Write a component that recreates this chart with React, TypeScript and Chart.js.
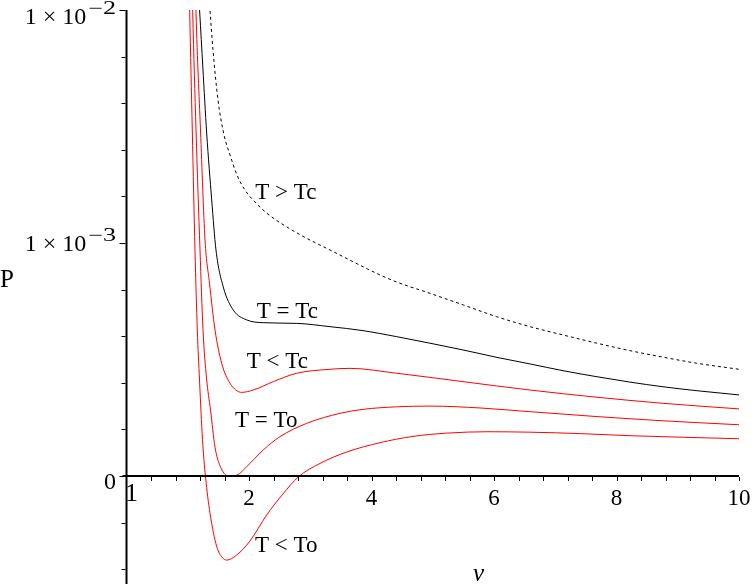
import React, { useEffect, useRef } from "react";
import { Chart, registerables } from "chart.js";

Chart.register(...registerables);

// Axis units: x = v ; y = plotted P position (0 -> "0", 1 -> "1 × 10^-3", 2 -> "1 × 10^-2")
const V_MIN = 0;
const V_MAX = 10;
const P_MIN = -0.4635;
const P_MAX = 2;

// T > Tc (dashed black)
const vHot = [1.32, 1.363, 1.412, 1.494, 1.592, 1.69, 1.804, 1.935, 2.098, 2.31, 2.784, 3.322, 4.33, 4.955, 5.5, 6.04, 6.588, 7.13, 7.68, 8.22, 8.76, 9.31, 10];
const pHot = [2.15, 2.0, 1.828, 1.614, 1.464, 1.378, 1.292, 1.227, 1.176, 1.124, 1.043, 0.97, 0.841, 0.784, 0.734, 0.684, 0.641, 0.605, 0.57, 0.538, 0.51, 0.484, 0.458];

// T = Tc (solid black)
const vCrit = [1.172, 1.195, 1.246, 1.309, 1.391, 1.461, 1.58, 1.744, 1.962, 2.233, 2.779, 3.322, 3.861, 4.411, 4.955, 5.494, 6.049, 6.588, 7.127, 7.682, 8.22, 8.759, 9.314, 10];
const pCrit = [2.09, 1.991, 1.755, 1.472, 1.185, 0.97, 0.811, 0.712, 0.67, 0.658, 0.655, 0.641, 0.624, 0.598, 0.57, 0.541, 0.509, 0.481, 0.452, 0.426, 0.403, 0.383, 0.366, 0.348];

// T < Tc (red)
const vSub = [1.127, 1.135, 1.208, 1.282, 1.355, 1.445, 1.554, 1.69, 1.881, 2.07, 2.397, 2.779, 3.322, 3.649, 4.411, 5.494, 6.588, 7.682, 8.759, 10];
const pSub = [2.086, 1.991, 1.485, 1.013, 0.828, 0.627, 0.484, 0.398, 0.359, 0.369, 0.405, 0.441, 0.458, 0.462, 0.441, 0.405, 0.369, 0.338, 0.312, 0.288];

// T = To (red)
const vEq = [1.073, 1.081, 1.135, 1.2, 1.249, 1.306, 1.372, 1.445, 1.543, 1.673, 1.804, 1.962, 2.233, 2.506, 2.942, 3.486, 3.861, 4.411, 4.955, 5.771, 6.588, 7.682, 8.759, 10];
const pEq = [2.086, 1.991, 1.485, 0.97, 0.627, 0.421, 0.283, 0.124, 0.034, 0.0, 0.004, 0.04, 0.112, 0.169, 0.226, 0.269, 0.286, 0.297, 0.3, 0.292, 0.276, 0.255, 0.237, 0.22];

// T < To (red)
const vLow = [1.025, 1.032, 1.074, 1.118, 1.156, 1.192, 1.241, 1.29, 1.363, 1.473, 1.559, 1.636, 1.799, 2.016, 2.289, 2.555, 2.805, 3.159, 3.595, 4.139, 4.678, 5.228, 5.9, 6.6, 7.4, 8.22, 10];
const pLow = [2.086, 1.991, 1.485, 0.97, 0.627, 0.412, 0.155, -0.003, -0.159, -0.303, -0.348, -0.361, -0.339, -0.279, -0.167, -0.077, -0.004, 0.054, 0.103, 0.143, 0.17, 0.184, 0.19, 0.188, 0.182, 0.173, 0.16];

// Tick labels
const xTickValues = [2, 4, 6, 8, 10];
const xTickLabels = ["2", "4", "6", "8", "10"];
const originLabel = "1";
const yTickValues = [0, 1, 2];
const yTickMantissas = ["0", "1 × 10", "1 × 10"];
const yTickExponents = ["", "−3", "−2"];
const yAxisTitle = "P";
const xAxisTitle = "v";

// Curve annotations (anchor at left/baseline, in axis units)
const curveLabels = ["T > Tc", "T = Tc", "T < Tc", "T = To", "T < To"];
const curveLabelV = [2.102, 2.126, 1.962, 1.771, 2.098];
const curveLabelP = [1.188, 0.678, 0.4635, 0.21, -0.325];

const toPoints = (vs: number[], ps: number[]) => vs.map((v, i) => ({ x: v, y: ps[i] }));

const SERIF = '"Liberation Serif", "Times New Roman", "DejaVu Serif", serif';

export default function App() {
  const ref = useRef<HTMLCanvasElement | null>(null);

  useEffect(() => {
    const canvas = ref.current;
    if (!canvas) return;
    let chart: Chart | null = null;
    let cancelled = false;

    const axesPlugin = {
      id: "mapleAxes",
      afterDatasetsDraw(ch: any) {
        const { ctx } = ch;
        const xs = ch.scales.x;
        const ys = ch.scales.y;
        const x0 = xs.getPixelForValue(0);
        const y0 = ys.getPixelForValue(0);
        ctx.save();
        ctx.strokeStyle = "#000";
        ctx.fillStyle = "#000";
        ctx.lineWidth = 2;
        ctx.beginPath();
        ctx.moveTo(x0, ys.getPixelForValue(P_MAX));
        ctx.lineTo(x0, ch.height);
        ctx.stroke();
        ctx.beginPath();
        ctx.moveTo(x0 - 4, y0);
        ctx.lineTo(xs.getPixelForValue(V_MAX), y0);
        ctx.stroke();
        ctx.lineWidth = 1;
        for (let k = -2; k <= 10; k++) {
          const py = Math.round(ys.getPixelForValue(k * 0.2)) + 0.5;
          const len = k % 5 === 0 ? 6 : 4;
          ctx.beginPath();
          ctx.moveTo(x0 - 1 - len, py);
          ctx.lineTo(x0 - 1, py);
          ctx.stroke();
        }
        for (let k = 1; k <= 25; k++) {
          const px = Math.round(xs.getPixelForValue(k * 0.4)) + 0.5;
          ctx.beginPath();
          ctx.moveTo(px, y0 + 1);
          ctx.lineTo(px, y0 + 5);
          ctx.stroke();
        }
        ctx.font = `23px ${SERIF}`;
        ctx.textAlign = "center";
        ctx.textBaseline = "alphabetic";
        xTickValues.forEach((v, i) => {
          ctx.fillText(xTickLabels[i], xs.getPixelForValue(v), y0 + 29);
        });
        ctx.font = `26px ${SERIF}`;
        ctx.fillText(originLabel, x0 + 5, y0 + 25);
        const right = 116;
        const expScale = 1.45;
        yTickValues.forEach((val, i) => {
          const py = ys.getPixelForValue(val);
          const base = val === 0 ? py + 13 : Math.max(py + 8, 24);
          const exp = yTickExponents[i];
          ctx.textAlign = "left";
          ctx.font = `18px ${SERIF}`;
          const ew = exp ? ctx.measureText(exp).width * expScale : 0;
          ctx.font = `24px ${SERIF}`;
          const mw = ctx.measureText(yTickMantissas[i]).width;
          ctx.fillText(yTickMantissas[i], right - ew - mw - (exp ? 2 : 0), base);
          if (exp) {
            ctx.save();
            ctx.font = `18px ${SERIF}`;
            ctx.translate(right - ew, base - 10);
            ctx.scale(expScale, 1);
            ctx.fillText(exp, 0, 0);
            ctx.restore();
          }
        });
        ctx.font = `25px ${SERIF}`;
        ctx.textAlign = "left";
        ctx.fillText(yAxisTitle, 0, 287);
        ctx.font = `italic 25px ${SERIF}`;
        ctx.fillText(xAxisTitle, 473, 581);
        ctx.font = `23px ${SERIF}`;
        curveLabels.forEach((t, i) => {
          ctx.fillText(t, xs.getPixelForValue(curveLabelV[i]), ys.getPixelForValue(curveLabelP[i]));
        });
        ctx.restore();
      },
    };

    const common = {
      pointRadius: 0,
      borderWidth: 1,
      fill: false,
      cubicInterpolationMode: "monotone" as const,
    };

    const build = () => {
      if (cancelled) return;
      chart = new Chart(canvas, {
        type: "line",
        data: {
          datasets: [
            { ...common, label: "T > Tc", data: toPoints(vHot, pHot), borderColor: "#000", borderDash: [3, 3] },
            { ...common, label: "T = Tc", data: toPoints(vCrit, pCrit), borderColor: "#000" },
            { ...common, label: "T < Tc", data: toPoints(vSub, pSub), borderColor: "#ff0000" },
            { ...common, label: "T = To", data: toPoints(vEq, pEq), borderColor: "#ff0000" },
            { ...common, label: "T < To", data: toPoints(vLow, pLow), borderColor: "#ff0000" },
          ],
        },
        options: {
          responsive: false,
          animation: false,
          devicePixelRatio: 1,
          layout: { padding: { left: 126.5, right: 17, top: 10, bottom: 0 } },
          scales: {
            x: { type: "linear", min: V_MIN, max: V_MAX, display: false },
            y: { type: "linear", min: P_MIN, max: P_MAX, display: false },
          },
          plugins: { legend: { display: false }, tooltip: { enabled: false } },
        },
        plugins: [axesPlugin],
      });
    };

    const fonts: any = (document as any).fonts;
    if (fonts && fonts.load) {
      Promise.all([
        fonts.load(`24px "Liberation Serif"`),
        fonts.load(`italic 24px "Liberation Serif"`),
      ]).then(build, build);
    } else {
      build();
    }

    return () => {
      cancelled = true;
      if (chart) chart.destroy();
    };
  }, []);

  return (
    <div style={{ position: "fixed", left: 0, top: 0, width: 756, height: 584, background: "#fff" }}>
      <canvas ref={ref} width={756} height={584} style={{ width: 756, height: 584, display: "block" }} />
    </div>
  );
}
